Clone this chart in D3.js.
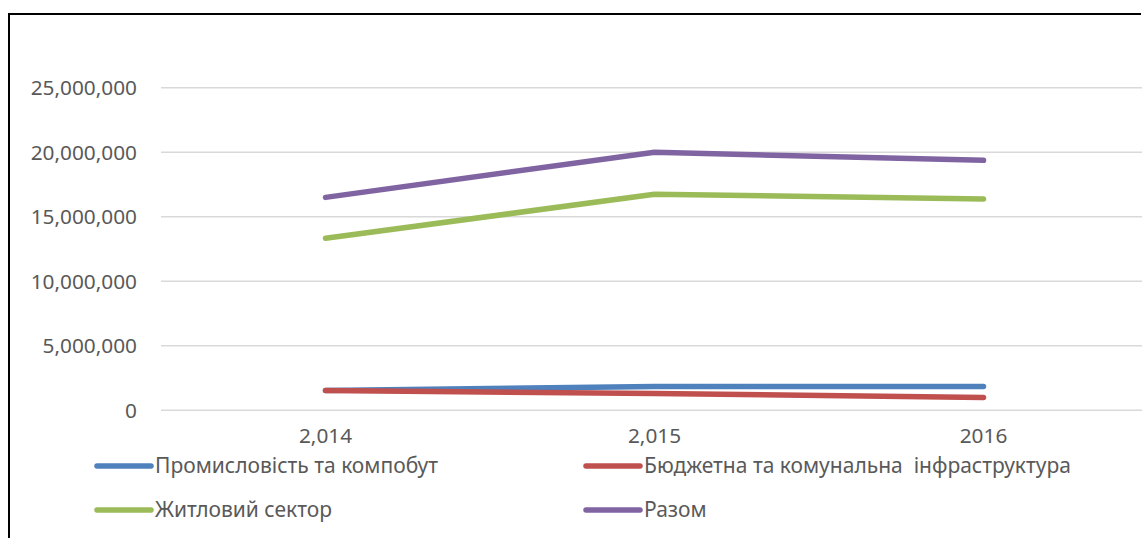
<!DOCTYPE html>
<html><head><meta charset="utf-8">
<script src="https://cdn.jsdelivr.net/npm/d3@7/dist/d3.min.js"></script>
<style>body{margin:0;background:#fff;}svg{display:block;font-family:"Noto Sans","Open Sans",sans-serif;}</style>
</head><body>
<svg id="c" width="1142" height="538"></svg>
<script>
const categories = ["2,014", "2,015", "2016"];
const seriesNames = ["Промисловість та компобут", "Бюджетна та комунальна  інфраструктура", "Житловий сектор", "Разом"];
const industry = [1530000, 1840000, 1840000];
const budget = [1530000, 1300000, 1000000];
const housing = [13330000, 16740000, 16380000];
const total = [16500000, 20000000, 19370000];
const yTicks = [0, 5000000, 10000000, 15000000, 20000000, 25000000];
const colors = ["#4F81BD", "#C0504D", "#9BBB59", "#8064A2"];

const seriesValues = [industry, budget, housing, total];
const svg = d3.select("#c");

// frame
svg.append("path").attr("d", "M9,540 V14 H1141").attr("fill", "none").attr("stroke", "#000").attr("stroke-width", 2);

const x = d3.scaleBand().domain(categories).range([161, 1148]);
const y = d3.scaleLinear().domain([0, 25000000]).range([410.3, 87.7]);

// gridlines
svg.append("g").selectAll("line").data(yTicks).join("line")
  .attr("x1", 161).attr("x2", 1142)
  .attr("y1", d => y(d)).attr("y2", d => y(d))
  .attr("stroke", "#d9d9d9").attr("stroke-width", 1.5);

// y labels
const fmt = d3.format(",");
svg.append("g").selectAll("text").data(yTicks).join("text")
  .attr("x", 137).attr("y", d => y(d)).attr("dy", "0.35em")
  .attr("text-anchor", "end").attr("fill", "#595959").attr("font-size", 20.8)
  .text(d => fmt(d));

// x labels
svg.append("g").selectAll("text").data(categories).join("text")
  .attr("x", d => x(d) + x.bandwidth() / 2).attr("y", 443)
  .attr("text-anchor", "middle").attr("fill", "#595959").attr("font-size", 20.8)
  .text(d => d);

// lines
const line = d3.line().x((d, i) => x(categories[i]) + x.bandwidth() / 2).y(d => y(d));
svg.append("g").selectAll("path").data(seriesValues).join("path")
  .attr("d", d => line(d)).attr("fill", "none")
  .attr("stroke", (d, i) => colors[i]).attr("stroke-width", 5.5)
  .attr("stroke-linecap", "round").attr("stroke-linejoin", "round");

// legend
const legendPos = [[97, 466], [586, 466], [97, 510], [586, 510]];
const lg = svg.append("g").selectAll("g").data(seriesNames).join("g")
  .attr("transform", (d, i) => `translate(${legendPos[i][0]},${legendPos[i][1]})`);
lg.append("line").attr("x1", 0).attr("x2", 54).attr("y1", 0).attr("y2", 0)
  .attr("stroke", (d, i) => colors[i]).attr("stroke-width", 5.5).attr("stroke-linecap", "round");
lg.append("text").attr("x", 58).attr("y", 0).attr("dy", "0.35em")
  .attr("fill", "#595959").attr("font-size", 21).attr("xml:space", "preserve")
  .style("white-space", "pre").text(d => d);
</script>
</body></html>
